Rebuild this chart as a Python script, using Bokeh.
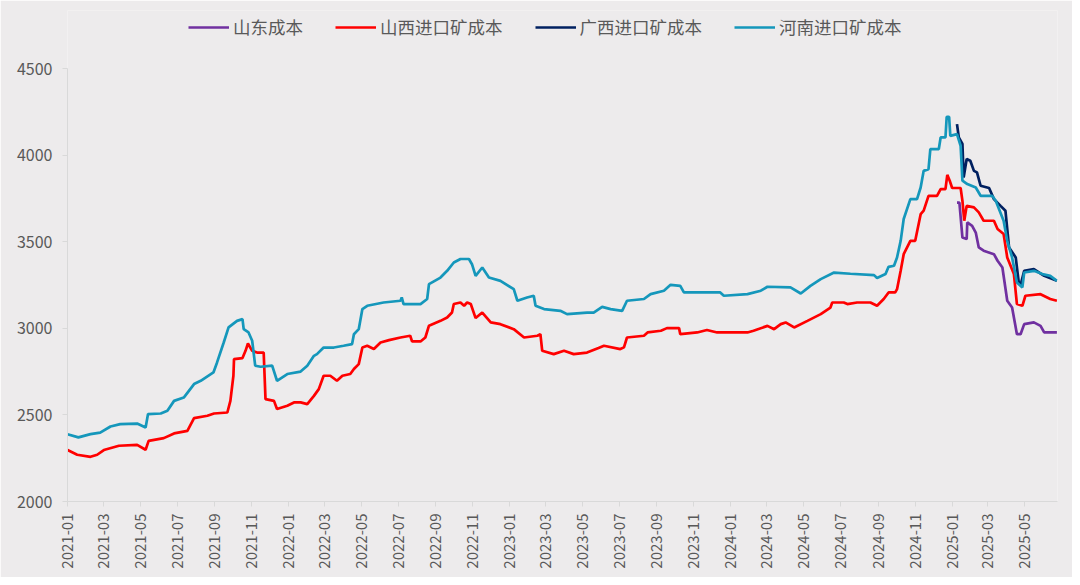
import pandas as pd
from datetime import datetime
from bokeh.plotting import figure
from bokeh.models import Range1d, FixedTicker, DatetimeTickFormatter, Legend, LegendItem
from bokeh.embed import file_html
from bokeh.resources import INLINE

# ---------------- data ----------------
series_names = ["山东成本", "山西进口矿成本", "广西进口矿成本", "河南进口矿成本"]
series_colors = ["#7030A0", "#FF0000", "#002060", "#1597BB"]

shandong_dates = ["2025-01-09", "2025-01-13", "2025-01-18", "2025-01-25", "2025-01-26", "2025-02-03",
                  "2025-02-09", "2025-02-14", "2025-02-22", "2025-03-11", "2025-03-17", "2025-03-25",
                  "2025-04-02", "2025-04-10", "2025-04-18", "2025-04-24", "2025-04-30", "2025-05-16",
                  "2025-05-27", "2025-06-02", "2025-06-23"]
shandong_values = [3726, 3726, 3524, 3515, 3611, 3592, 3553, 3467, 3448, 3428, 3390, 3351,
                   3159, 3120, 2966, 2966, 3024, 3034, 3014, 2976, 2976]

shanxi_dates = ["2021-01-01", "2021-01-17", "2021-02-08", "2021-02-19", "2021-03-02", "2021-03-27",
                "2021-04-26", "2021-05-10", "2021-05-15", "2021-06-09", "2021-06-26", "2021-07-18",
                "2021-07-29", "2021-08-20", "2021-08-31", "2021-09-22", "2021-09-27", "2021-10-02",
                "2021-10-03", "2021-10-17", "2021-10-22", "2021-10-26", "2021-11-02", "2021-11-10",
                "2021-11-21", "2021-11-24", "2021-12-08", "2021-12-13", "2021-12-30", "2022-01-10",
                "2022-01-21", "2022-02-01", "2022-02-12", "2022-02-20", "2022-02-28", "2022-03-11",
                "2022-03-22", "2022-03-31", "2022-04-13", "2022-04-19", "2022-04-27", "2022-05-03",
                "2022-05-11", "2022-05-22", "2022-06-02", "2022-06-16", "2022-07-05", "2022-07-21",
                "2022-07-24", "2022-08-07", "2022-08-15", "2022-08-21", "2022-09-09", "2022-09-20",
                "2022-09-28", "2022-10-01", "2022-10-12", "2022-10-18", "2022-10-23", "2022-10-29",
                "2022-11-06", "2022-11-17", "2022-12-01", "2022-12-17", "2023-01-08", "2023-01-25",
                "2023-02-16", "2023-02-21", "2023-02-24", "2023-03-15", "2023-04-01", "2023-04-17",
                "2023-05-09", "2023-05-28", "2023-06-06", "2023-07-03", "2023-07-09", "2023-07-14",
                "2023-08-11", "2023-08-17", "2023-09-08", "2023-09-18", "2023-10-08", "2023-10-10",
                "2023-11-07", "2023-11-23", "2023-12-10", "2024-01-29", "2024-02-08", "2024-03-02",
                "2024-03-13", "2024-03-24", "2024-04-01", "2024-04-15", "2024-05-07", "2024-05-29",
                "2024-06-14", "2024-06-17", "2024-07-06", "2024-07-12", "2024-07-28", "2024-08-19",
                "2024-08-30", "2024-09-10", "2024-09-18", "2024-09-29", "2024-10-02", "2024-10-08",
                "2024-10-13", "2024-10-24", "2024-11-01", "2024-11-10", "2024-11-15", "2024-11-23",
                "2024-12-07", "2024-12-13", "2024-12-21", "2024-12-24", "2024-12-28", "2025-01-01",
                "2025-01-15", "2025-01-18", "2025-01-21", "2025-01-25", "2025-02-06", "2025-02-14",
                "2025-02-22", "2025-03-11", "2025-03-17", "2025-03-27", "2025-04-02", "2025-04-13",
                "2025-04-18", "2025-04-27", "2025-05-02", "2025-05-27", "2025-06-12", "2025-06-23"]
shanxi_values = [2297, 2270, 2258, 2270, 2297, 2322, 2327, 2299, 2350, 2366, 2393, 2408,
                 2481, 2495, 2508, 2514, 2581, 2726, 2822, 2828, 2870, 2912, 2870, 2860,
                 2860, 2591, 2581, 2534, 2553, 2572, 2572, 2562, 2610, 2649, 2726, 2726,
                 2697, 2726, 2736, 2765, 2793, 2889, 2899, 2880, 2918, 2932, 2947, 2957,
                 2924, 2924, 2947, 3015, 3043, 3062, 3091, 3140, 3149, 3130, 3149, 3140,
                 3059, 3091, 3034, 3024, 2995, 2947, 2957, 2966, 2870, 2851, 2870, 2851,
                 2860, 2886, 2899, 2880, 2890, 2947, 2957, 2976, 2986, 3001, 3001, 2966,
                 2976, 2990, 2976, 2976, 2986, 3014, 2995, 3024, 3034, 3005, 3043, 3082,
                 3120, 3149, 3149, 3140, 3149, 3149, 3130, 3169, 3207, 3207, 3226, 3332,
                 3428, 3505, 3505, 3659, 3679, 3765, 3765, 3804, 3804, 3886, 3852, 3810,
                 3810, 3736, 3621, 3707, 3698, 3669, 3621, 3621, 3573, 3544, 3409, 3313,
                 3140, 3130, 3188, 3197, 3169, 3159]

guangxi_dates = ["2025-01-09", "2025-01-12", "2025-01-18", "2025-01-20", "2025-01-25", "2025-01-31",
                 "2025-02-06", "2025-02-11", "2025-02-17", "2025-03-03", "2025-03-11", "2025-03-22",
                 "2025-03-30", "2025-04-05", "2025-04-16", "2025-04-21", "2025-04-24", "2025-04-30",
                 "2025-05-16", "2025-06-02", "2025-06-23"]
guangxi_values = [4179, 4102, 4064, 3871, 3977, 3967, 3909, 3900, 3823, 3810, 3746, 3707,
                  3679, 3467, 3409, 3265, 3250, 3332, 3342, 3303, 3274]

henan_dates = ["2021-01-01", "2021-01-19", "2021-02-08", "2021-02-24", "2021-03-13", "2021-03-29",
               "2021-04-26", "2021-05-10", "2021-05-14", "2021-06-04", "2021-06-15", "2021-06-26",
               "2021-07-12", "2021-07-29", "2021-08-09", "2021-08-30", "2021-09-05", "2021-09-16",
               "2021-09-24", "2021-10-08", "2021-10-17", "2021-10-19", "2021-10-27", "2021-11-02",
               "2021-11-07", "2021-11-16", "2021-12-05", "2021-12-13", "2021-12-30", "2022-01-21",
               "2022-02-01", "2022-02-12", "2022-02-17", "2022-02-28", "2022-03-17", "2022-04-02",
               "2022-04-16", "2022-04-19", "2022-04-27", "2022-05-03", "2022-05-11", "2022-06-07",
               "2022-07-05", "2022-07-07", "2022-07-10", "2022-08-07", "2022-08-18", "2022-08-21",
               "2022-09-09", "2022-09-20", "2022-10-01", "2022-10-12", "2022-10-26", "2022-10-31",
               "2022-11-06", "2022-11-17", "2022-11-28", "2022-12-17", "2023-01-08", "2023-01-14",
               "2023-01-30", "2023-02-10", "2023-02-13", "2023-02-27", "2023-03-26", "2023-04-06",
               "2023-05-09", "2023-05-20", "2023-06-03", "2023-06-17", "2023-07-06", "2023-07-14",
               "2023-08-11", "2023-08-22", "2023-09-13", "2023-09-24", "2023-10-10", "2023-10-16",
               "2023-12-15", "2023-12-21", "2024-01-29", "2024-02-20", "2024-03-02", "2024-04-09",
               "2024-04-26", "2024-05-12", "2024-05-29", "2024-06-20", "2024-07-17", "2024-08-25",
               "2024-08-30", "2024-09-13", "2024-09-18", "2024-09-27", "2024-10-02", "2024-10-08",
               "2024-10-13", "2024-10-24", "2024-11-04", "2024-11-10", "2024-11-15", "2024-11-23",
               "2024-11-26", "2024-12-10", "2024-12-13", "2024-12-21", "2024-12-23", "2024-12-27",
               "2024-12-29", "2025-01-09", "2025-01-15", "2025-01-18", "2025-01-26", "2025-02-09",
               "2025-02-17", "2025-03-08", "2025-03-14", "2025-03-27", "2025-04-02", "2025-04-10",
               "2025-04-18", "2025-04-27", "2025-04-30", "2025-05-16", "2025-05-30", "2025-06-12",
               "2025-06-23"]
henan_values = [2388, 2370, 2389, 2398, 2433, 2447, 2450, 2427, 2505, 2508, 2524, 2581,
                2600, 2678, 2697, 2745, 2803, 2918, 3005, 3043, 3053, 2995, 2976, 2928,
                2784, 2778, 2784, 2697, 2736, 2750, 2784, 2841, 2851, 2889, 2889, 2899,
                2909, 2966, 2995, 3111, 3130, 3149, 3159, 3178, 3140, 3140, 3169, 3255,
                3293, 3332, 3380, 3400, 3400, 3370, 3303, 3351, 3293, 3274, 3226, 3159,
                3178, 3188, 3130, 3111, 3101, 3082, 3091, 3091, 3124, 3111, 3101, 3159,
                3169, 3197, 3217, 3251, 3245, 3207, 3207, 3188, 3197, 3217, 3240, 3236,
                3201, 3245, 3284, 3322, 3315, 3307, 3290, 3313, 3355, 3361, 3409, 3505,
                3631, 3746, 3746, 3813, 3909, 3919, 4035, 4035, 4102, 4102, 4221, 4221,
                4111, 4121, 4054, 3852, 3833, 3813, 3765, 3765, 3736, 3621, 3505, 3409,
                3265, 3236, 3322, 3332, 3313, 3303, 3274]

x_tick_labels = ["2021-01", "2021-03", "2021-05", "2021-07", "2021-09", "2021-11",
                 "2022-01", "2022-03", "2022-05", "2022-07", "2022-09", "2022-11",
                 "2023-01", "2023-03", "2023-05", "2023-07", "2023-09", "2023-11",
                 "2024-01", "2024-03", "2024-05", "2024-07", "2024-09", "2024-11",
                 "2025-01", "2025-03", "2025-05"]
y_ticks = [2000, 2500, 3000, 3500, 4000, 4500]
y_min, y_max = 2000, 4500

# ---------------- figure ----------------
BG = "#EDEBEC"
TXT = "#595959"
AX = "#D9D9D9"
FONT = "Noto Sans CJK SC"

W, H = 1072, 577
LEFT, RIGHT, BOTTOM, TOP = 67, 15, 76, 10
AXIS_TOP_PX = 68            # pixel row where the 4500 level sits
frame_h = H - BOTTOM - TOP
axis_h = H - BOTTOM - AXIS_TOP_PX
y_end = y_min + (y_max - y_min) * frame_h / axis_h   # frame extends above axis to host the legend

p = figure(width=W, height=H, x_axis_type="datetime",
           output_backend="svg", toolbar_location=None,
           min_border_left=LEFT, min_border_right=RIGHT, min_border_top=TOP, min_border_bottom=BOTTOM)
p.x_range = Range1d(datetime(2021, 1, 1), datetime(2025, 6, 24))
p.y_range = Range1d(y_min, y_end)
p.background_fill_color = BG
p.border_fill_color = BG
p.outline_line_color = None
p.grid.visible = False

all_dates = [shandong_dates, shanxi_dates, guangxi_dates, henan_dates]
all_values = [shandong_values, shanxi_values, guangxi_values, henan_values]
items = []
for name, color, d, v in zip(series_names, series_colors, all_dates, all_values):
    r = p.line(pd.to_datetime(d), v, line_color=color, line_width=2.7)
    items.append(LegendItem(label=name, renderers=[r]))

tick_ms = [pd.Timestamp(t + "-01").value / 1e6 for t in x_tick_labels]
p.xaxis.ticker = FixedTicker(ticks=tick_ms)
p.xaxis.formatter = DatetimeTickFormatter(days="%Y-%m", months="%Y-%m", years="%Y-%m")
p.xaxis.major_label_orientation = 1.5708
p.yaxis.ticker = FixedTicker(ticks=y_ticks)
p.yaxis.bounds = (y_min, y_max)

for ax in (p.xaxis[0], p.yaxis[0]):
    ax.axis_line_color = AX
    ax.major_tick_line_color = AX
    ax.minor_tick_line_color = None
    ax.major_tick_in = 0
    ax.major_tick_out = 5
    ax.major_label_text_color = TXT
    ax.major_label_text_font = FONT
p.xaxis.major_label_text_font_size = "15px"
p.xaxis.major_label_standoff = 7
p.yaxis.major_label_text_font_size = "16px"
p.yaxis.major_label_standoff = 10

legend = Legend(items=items, orientation="horizontal", location=(121, 462),
                label_text_font=FONT, label_text_font_size="17.5px", label_text_color=TXT,
                glyph_width=41, glyph_height=20, label_height=20, label_standoff=4, spacing=32,
                padding=0, margin=0, border_line_color=None, background_fill_alpha=0)
p.add_layout(legend)

html = file_html(p, INLINE)
html = html.replace("<body>", '<body style="background:#EDEBEC">', 1)
open("out.html", "w").write(html)
